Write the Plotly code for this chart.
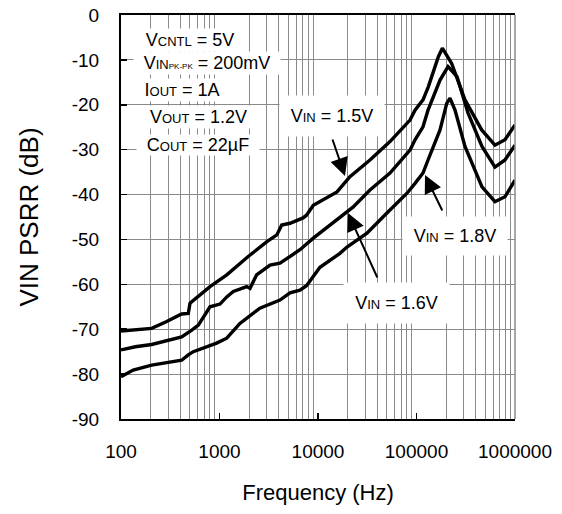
import plotly.graph_objects as go

# ---- data ----
freq_15 = [100, 140, 205, 291, 413, 482, 502, 801, 1185, 1957, 3030, 3820, 4280, 5200, 7050,
           7640, 8960, 15600, 21100, 33700, 53800, 85900, 96600, 116400, 131800, 166700,
           183000, 227500, 310600, 459000, 626000, 791000, 1000000]
psrr_15 = [-70.4, -70.1, -69.8, -68.3, -66.6, -66.5, -64.2, -60.5, -57.9, -53.8, -50.5, -49.0,
           -46.8, -46.4, -45.2, -44.6, -42.4, -39.4, -36.0, -32.3, -28.2, -23.4, -21.2, -18.9,
           -16.0, -9.3, -7.4, -10.8, -18.9, -25.6, -29.0, -27.8, -24.5]

freq_16 = [100, 140, 205, 413, 523, 610, 801, 1012, 1185, 1382, 1890, 2041, 2380, 3260, 4111,
           6560, 8960, 15600, 22650, 33700, 53800, 85900, 96600, 116400, 130900, 173300,
           209000, 257700, 333200, 462000, 626000, 791000, 1000000]
psrr_16 = [-74.6, -73.9, -73.4, -71.7, -70.2, -69.1, -65.0, -64.4, -62.8, -61.6, -60.5, -60.9,
           -57.9, -55.7, -55.3, -52.3, -49.7, -45.7, -42.8, -39.0, -35.2, -30.1, -27.8, -24.9,
           -21.2, -14.5, -11.5, -13.7, -21.8, -29.3, -33.9, -32.3, -29.0]

freq_18 = [100, 133, 205, 291, 413, 482, 542, 935, 1185, 1612, 2571, 4111, 5200, 6560, 7640,
           10470, 16700, 19700, 31400, 50100, 80100, 96600, 116400, 130900, 173300, 202700,
           218800, 246000, 310600, 462000, 626000, 791000, 1000000]
psrr_18 = [-80.6, -79.1, -78.0, -77.4, -76.9, -75.7, -75.0, -73.1, -72.0, -68.7, -65.3, -63.5,
           -61.9, -61.3, -60.3, -56.2, -53.1, -51.7, -48.6, -44.1, -39.7, -37.5, -35.2, -32.3,
           -25.6, -19.7, -18.5, -21.2, -29.3, -38.3, -41.6, -40.5, -36.8]

x_tickvals = [100, 1000, 10000, 100000, 1000000]
x_ticktext = ["100", "1000", "10000", "100000", "1000000"]
y_tickvals = [0, -10, -20, -30, -40, -50, -60, -70, -80, -90]
y_ticktext = ["0", "-10", "-20", "-30", "-40", "-50", "-60", "-70", "-80", "-90"]

# ---- geometry (page pixels; body margin removed by post_script) ----
W, H = 562, 514
L, R, T, B = 121, 515, 15, 419   # plot area in page pixels


def px(xp):
    return (xp - L) / (R - L)


def py(yp):
    return (B - yp) / (B - T)


FONT = "Liberation Sans, Arial, sans-serif"

fig = go.Figure()
for fx, fy in [(freq_15, psrr_15), (freq_16, psrr_16), (freq_18, psrr_18)]:
    fig.add_trace(go.Scatter(x=fx, y=fy, mode="lines",
                             line=dict(color="black", width=3.4),
                             showlegend=False, hoverinfo="skip"))

minor_vals = [k * 10 ** d for d in range(2, 6) for k in range(2, 10)]

fig.update_layout(
    width=W, height=H,
    margin=dict(l=L, r=W - R, t=T, b=H - B, autoexpand=False),
    paper_bgcolor="white", plot_bgcolor="white",
    font=dict(family=FONT, size=19, color="black"),
    xaxis=dict(type="log", range=[2, 6], tickmode="array", tickvals=x_tickvals,
               ticktext=x_ticktext, ticks="inside", ticklen=6, tickwidth=1.5,
               tickcolor="black", showgrid=False, showline=True, linecolor="black",
               linewidth=2, mirror=True, zeroline=False, ticklabelstandoff=14,
               ticklabeloverflow="allow",
               minor=dict(tickmode="array", tickvals=minor_vals, showgrid=True,
                          gridcolor="#8a8a8a", gridwidth=1, ticks=""),
               title=dict(text="Frequency (Hz)", font=dict(size=22), standoff=24),
               automargin=False),
    yaxis=dict(range=[-90, 0], tickmode="array", tickvals=y_tickvals, ticktext=y_ticktext,
               ticks="inside", ticklen=6, tickwidth=1.5, tickcolor="black",
               showgrid=True, gridcolor="#8a8a8a", gridwidth=1, showline=True,
               linecolor="black", linewidth=2, mirror=False, zeroline=False,
               ticklabelstandoff=16, ticklabeloverflow="allow",
               title=dict(text="VIN PSRR (dB)", font=dict(size=26), standoff=26),
               automargin=False),
    shapes=[dict(type="line", xref="paper", yref="paper", x0=1, x1=1, y0=0, y1=1,
                 line=dict(color="#8a8a8a", width=1.5))],
)

S = "<span style='font-size:13px'>"
XS = "<span style='font-size:8px'>"
E = "</span>"

boxes = [
    ("V" + S + "CNTL" + E + " = 5V", 190, 40, 112, 22),
    ("V" + S + "IN" + E + XS + "PK-PK" + E + " = 200mV", 207, 63, 146, 22),
    ("I" + S + "OUT" + E + " = 1A", 182, 90, 100, 22),
    ("V" + S + "OUT" + E + " = 1.2V", 198, 117, 115, 22),
    ("C" + S + "OUT" + E + " = 22µF", 198, 145, 122, 20),
    ("V" + S + "IN" + E + " = 1.5V", 332, 116, 104, 40),
    ("V" + S + "IN" + E + " = 1.8V", 455, 236, 104, 38),
    ("V" + S + "IN" + E + " = 1.6V", 396, 303, 105, 40),
]
for text, cx, cy, w, h in boxes:
    fig.add_annotation(text=text, xref="paper", yref="paper", x=px(cx), y=py(cy),
                       xanchor="center", yanchor="middle", showarrow=False,
                       width=w, height=h, bgcolor="white", borderpad=0,
                       font=dict(family=FONT, size=18, color="black"))

arrows = [
    (345, 176, 332, 138),
    (425, 175, 443, 212),
    (348, 213, 378, 279),
]
for hx, hy, tx, ty in arrows:
    fig.add_annotation(text="", xref="paper", yref="paper", x=px(hx), y=py(hy),
                       ax=tx - hx, ay=ty - hy, showarrow=True, arrowhead=2,
                       arrowsize=1.8, arrowwidth=2, arrowcolor="black")

fig.write_html("out.html",
               config={"displayModeBar": False, "staticPlot": True},
               post_script="document.body.style.margin='0px';"
                           "document.body.style.overflow='hidden';")
